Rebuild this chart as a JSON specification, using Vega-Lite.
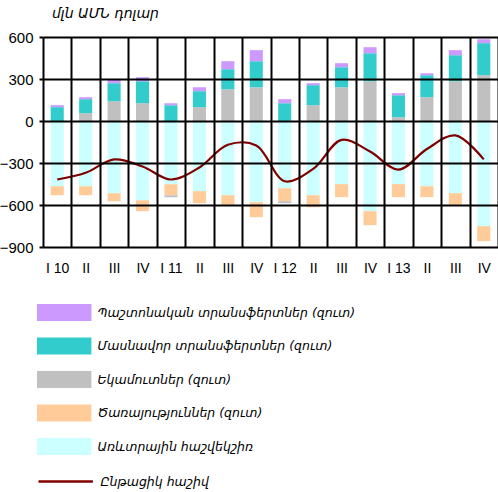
{
  "$schema": "https://vega.github.io/schema/vega-lite/v6.json",
  "width": 455,
  "height": 210,
  "autosize": {"type": "none"},
  "padding": {"left": 43, "top": 37, "right": 0, "bottom": 245},
  "background": "white",
  "config": {"view": {"stroke": null}},
  "title": {"text": "մլն ԱՄՆ դոլար", "anchor": "start", "frame": "group", "font": "DejaVu Sans", "fontStyle": "italic", "fontSize": 14, "fontWeight": "normal", "color": "#000000", "dx": 9, "offset": -2, "baseline": "alphabetic"},
  "datasets": {
    "q": [
      {"q": "I 10", "trade": -466, "services": -64, "income": 0, "private": 99, "official": 14, "current": -418},
      {"q": "II 10", "trade": -466, "services": -64, "income": 56, "private": 100, "official": 14, "current": -370},
      {"q": "III 10", "trade": -516, "services": -57, "income": 141, "private": 129, "official": 31, "current": -274},
      {"q": "IV 10", "trade": -566, "services": -78, "income": 127, "private": 157, "official": 29, "current": -325},
      {"q": "I 11", "trade": -451, "services": -79, "income": -14, "private": 113, "official": 14, "current": -418},
      {"q": "II 11", "trade": -501, "services": -86, "income": 99, "private": 114, "official": 28, "current": -332},
      {"q": "III 11", "trade": -530, "services": -69, "income": 227, "private": 143, "official": 57, "current": -170},
      {"q": "IV 11", "trade": -580, "services": -107, "income": 241, "private": 186, "official": 79, "current": -175},
      {"q": "I 12", "trade": -480, "services": -93, "income": -14, "private": 127, "official": 29, "current": -430},
      {"q": "II 12", "trade": -530, "services": -86, "income": 113, "private": 143, "official": 14, "current": -342},
      {"q": "III 12", "trade": -451, "services": -93, "income": 241, "private": 143, "official": 29, "current": -135},
      {"q": "IV 12", "trade": -644, "services": -100, "income": 284, "private": 200, "official": 43, "current": -218},
      {"q": "I 13", "trade": -451, "services": -93, "income": 27, "private": 157, "official": 15, "current": -347},
      {"q": "II 13", "trade": -466, "services": -78, "income": 170, "private": 157, "official": 14, "current": -200},
      {"q": "III 13", "trade": -516, "services": -86, "income": 284, "private": 186, "official": 36, "current": -103},
      {"q": "IV 13", "trade": -751, "services": -107, "income": 327, "private": 229, "official": 28, "current": -274}
    ],
    "s": [
      {"key": "trade", "name": "Առևտրային հաշվեկշիռ", "k": 0},
      {"key": "services", "name": "Ծառայություններ (զուտ)", "k": 1},
      {"key": "income", "name": "Եկամուտներ (զուտ)", "k": 2},
      {"key": "private", "name": "Մասնավոր տրանսֆերտներ (զուտ)", "k": 3},
      {"key": "official", "name": "Պաշտոնական տրանսֆերտներ (զուտ)", "k": 4}
    ]
  },
  "encoding": {
    "x": {
      "field": "q", "type": "nominal", "sort": null,
      "scale": {"paddingInner": 0, "paddingOuter": 0},
      "axis": {"title": null, "grid": true, "tickBand": "extent", "gridColor": "#000000", "gridWidth": 2, "gridOpacity": 1, "domain": false, "ticks": false, "labelAngle": 0, "labelFont": "Liberation Sans", "labelFontSize": 14, "labelColor": "#000000", "labelPadding": 14, "labelExpr": "indexof(datum.label, 'I ') == 0 ? datum.label : split(datum.label, ' ')[0]", "zindex": 1}
    }
  },
  "layer": [
    {
      "data": {"name": "q"},
      "transform": [
        {"fold": ["trade", "services", "income", "private", "official"], "as": ["key", "value"]},
        {"lookup": "key", "from": {"data": {"name": "s"}, "key": "key", "fields": ["name", "k"]}}
      ],
      "mark": {"type": "bar", "width": {"band": 0.46}},
      "encoding": {
        "y": {
          "field": "value", "type": "quantitative", "stack": "zero",
          "scale": {"domain": [-900, 600], "nice": false, "zero": false},
          "axis": {"title": null, "values": [-900, -600, -300, 0, 300, 600], "grid": true, "gridColor": "#000000", "gridWidth": 2, "gridOpacity": 1, "domain": false, "ticks": true, "tickColor": "#000000", "tickWidth": 2, "tickSize": 4, "labelFont": "Liberation Sans", "labelFontSize": 15, "labelColor": "#000000", "labelPadding": 6, "zindex": 1}
        },
        "fill": {
          "field": "name", "type": "nominal",
          "scale": {
            "domain": ["Պաշտոնական տրանսֆերտներ (զուտ)", "Մասնավոր տրանսֆերտներ (զուտ)", "Եկամուտներ (զուտ)", "Ծառայություններ (զուտ)", "Առևտրային հաշվեկշիռ"],
            "range": ["#CC99FF", "#33CCCC", "#C0C0C0", "#FFCC99", "#CCFFFF"]
          },
          "legend": {"orient": "none", "legendX": 12.7, "legendY": 267, "title": null, "padding": 0, "symbolType": "M-3.2,-1H3.2V1H-3.2Z", "symbolSize": 289, "symbolStrokeWidth": 0, "symbolOpacity": 1, "labelFont": "DejaVu Sans", "labelFontStyle": "italic", "labelFontSize": 12.5, "labelColor": "#000000", "labelLimit": 450, "labelOffset": 24.7, "rowPadding": 16.5}
        },
        "order": {"field": "k", "type": "quantitative"}
      }
    },
    {
      "data": {"name": "q"},
      "mark": {"type": "line", "interpolate": "catmull-rom", "strokeWidth": 2.2},
      "encoding": {
        "y": {"field": "current", "type": "quantitative"},
        "stroke": {
          "datum": "Ընթացիկ հաշիվ", "type": "nominal",
          "scale": {"range": ["#800000"]},
          "legend": {"orient": "none", "legendX": 12.7, "legendY": 434.5, "title": null, "padding": 0, "symbolType": "M-3.2,0H3.2", "symbolSize": 289, "symbolStrokeWidth": 2.5, "labelFont": "DejaVu Sans", "labelFontStyle": "italic", "labelFontSize": 12.5, "labelColor": "#000000", "labelLimit": 450, "labelOffset": 24.7}
        }
      }
    }
  ]
}
